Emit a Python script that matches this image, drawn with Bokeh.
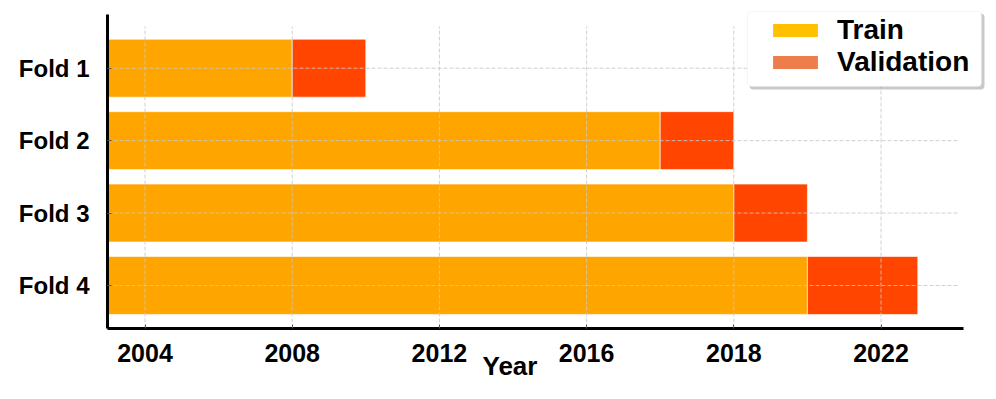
from bokeh.plotting import figure
from bokeh.models import (ColumnDataSource, Range1d, FixedTicker, Legend, LegendItem,
                          Title, BoxAnnotation)
from bokeh.embed import file_html
from bokeh.resources import INLINE

# ---- data ----
folds = ["Fold 1", "Fold 2", "Fold 3", "Fold 4"]
train_start = [2003, 2003, 2003, 2003]
train_end = [2008, 2018, 2020, 2022]
val_end = [2010, 2020, 2022, 2025]
x_tick_positions = [2004, 2008, 2012, 2016, 2020, 2024]
x_tick_labels = ["2004", "2008", "2012", "2016", "2018", "2022"]
legend_labels = ["Train", "Validation"]

FONT = "Liberation Sans"
ypos = list(range(len(folds)))[::-1]

# pixel -> data helpers (layout only)
FR_L, FR_T, FR_B = 107, 8, 328
PX_PER_YR, PX_PER_ROW = 36.8, 72.43
X0_PX = 144.5          # pixel of first tick
Y3_PX = 67.7           # pixel of top row centre
def dx(px): return x_tick_positions[0] + (px - X0_PX) / PX_PER_YR
def dy(py): return ypos[0] + (Y3_PX - py) / PX_PER_ROW

src = ColumnDataSource(dict(y=ypos, fold=folds, ts=train_start, te=train_end, ve=val_end))

p = figure(width=990, height=399, output_backend="svg", toolbar_location=None,
           x_range=Range1d(dx(FR_L), dx(985)), y_range=Range1d(dy(FR_B), dy(FR_T)),
           min_border_left=FR_L, min_border_right=5, min_border_top=FR_T,
           min_border_bottom=399 - FR_B)
p.outline_line_color = None
p.xgrid.visible = False
p.ygrid.visible = False

p.hbar(y="y", left="ts", right="te", height=0.8, source=src,
       fill_color="#FFA500", line_color="white", line_alpha=0.6, line_width=1)
p.hbar(y="y", left="te", right="ve", height=0.8, source=src,
       fill_color="#FF4500", line_color="white", line_alpha=0.6, line_width=1)

# dashed grid drawn on top of bars
grid_kw = dict(line_color="#c8c8c8", line_dash="4 2", line_width=1, line_alpha=0.85)
p.segment(x0=x_tick_positions, x1=x_tick_positions,
          y0=[dy(FR_B)] * len(x_tick_positions), y1=[dy(26)] * len(x_tick_positions), **grid_kw)
p.segment(x0=[dx(FR_L)] * len(ypos), x1=[dx(958)] * len(ypos),
          y0=ypos, y1=ypos, **grid_kw)

# legend proxies (zero height, invisible on the plot)
r_train = p.hbar(y=ypos[:1], left=train_start[:1], right=train_end[:1], height=0,
                 fill_color="#FFC000", line_alpha=0)
r_val = p.hbar(y=ypos[:1], left=train_start[:1], right=train_end[:1], height=0,
               fill_color="#ED7D4B", line_alpha=0)

# legend frame with shadow
p.add_layout(BoxAnnotation(left=dx(749), right=dx(984), top=dy(13), bottom=dy(89),
                           fill_color="#888888", fill_alpha=0.45, line_alpha=0,
                           border_radius=4))
p.add_layout(BoxAnnotation(left=dx(747), right=dx(981), top=dy(11), bottom=dy(86),
                           fill_color="white", fill_alpha=1, line_color="#dddddd",
                           line_width=1, border_radius=4))

legend = Legend(items=[LegendItem(label=legend_labels[0], renderers=[r_train]),
                       LegendItem(label=legend_labels[1], renderers=[r_val])],
                location=(761 - FR_L, FR_B - 84), orientation="vertical",
                glyph_width=56, glyph_height=16, label_height=32, spacing=0,
                label_standoff=14, padding=6, margin=0,
                label_text_font=FONT, label_text_font_style="bold",
                label_text_font_size="28px", label_text_color="black",
                border_line_alpha=0, background_fill_alpha=0)
p.add_layout(legend, "center")

# axes
p.xaxis.ticker = FixedTicker(ticks=x_tick_positions)
p.xaxis.major_label_overrides = {t: l for t, l in zip(x_tick_positions, x_tick_labels)}
p.yaxis.ticker = FixedTicker(ticks=ypos)
p.yaxis.major_label_overrides = {y: f for y, f in zip(ypos, folds)}
p.xaxis.bounds = (dx(FR_L), dx(963))
p.yaxis.bounds = (dy(FR_B), dy(14))

for ax in (p.xaxis, p.yaxis):
    ax.axis_line_width = 3
    ax.axis_line_color = "black"
    ax.major_tick_in = 4
    ax.major_tick_out = 0
    ax.major_tick_line_color = "#555555"
    ax.minor_tick_line_color = None
    ax.major_label_text_font = FONT
    ax.major_label_text_font_style = "bold"
    ax.major_label_text_color = "black"
p.xaxis.major_label_text_font_size = "25px"
p.yaxis.major_label_text_font_size = "24px"
p.xaxis.major_label_standoff = 15
p.yaxis.major_label_standoff = 18

p.add_layout(Title(text="Year", align="left", offset=482 - FR_L, standoff=-32,
                   text_font=FONT, text_font_style="bold", text_font_size="26px",
                   text_color="black"), "below")

open("out.html", "w").write(file_html(p, INLINE))
